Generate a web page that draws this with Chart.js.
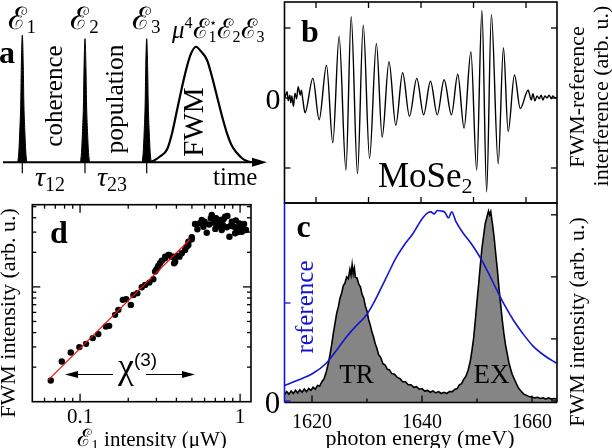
<!DOCTYPE html>
<html>
<head>
<meta charset="utf-8">
<script src="https://cdn.jsdelivr.net/npm/chart.js@4.4.1/dist/chart.umd.min.js"></script>
<style>
  html, body { margin: 0; padding: 0; background: #fff; }
  #wrap { position: relative; width: 612px; height: 448px; overflow: hidden; }
  #wrap canvas { position: absolute; left: 0; top: 0; }
</style>
</head>
<body>
<div id="wrap">
  <canvas id="cA" width="612" height="448"></canvas>
  <canvas id="cB" width="612" height="448"></canvas>
  <canvas id="cC" width="612" height="448"></canvas>
  <canvas id="cD" width="612" height="448"></canvas>
</div>
<script>
// ---- panel a: pulse sequence sketch
const pulseTimes = [19.3, 82, 143.7];
const pulseHeights = [1.10, 1.07, 1.07];
const pulseDt = [-4.5, -3.5, -2.5, -1.5, -1, 0, 1, 1.5, 2.5, 3.5, 4.5];
const pulseAmp = [0, 0.08, 0.25, 0.49, 0.75, 1, 0.75, 0.49, 0.25, 0.08, 0];
const fwmT = [147, 152, 157, 164, 169, 174, 179, 184, 188, 193, 198, 204, 209, 214, 219, 224, 229, 234, 239, 244, 249];
const fwmA = [0, 0.02, 0.05, 0.11, 0.25, 0.45, 0.65, 0.83, 0.94, 1.0, 0.96, 0.885, 0.74, 0.57, 0.40, 0.25, 0.14, 0.08, 0.035, 0.01, 0];

// ---- panel b: FWM-reference interference vs delay
const bX = [-0.59, -0.55, -0.53, -0.50, -0.48, -0.46, -0.43, -0.40, -0.37, -0.34, -0.30, -0.28, -0.25, -0.21,
  -0.06, 0.06, 0.20, 0.32, 0.44, 0.57, 0.67, 0.79, 0.90, 1.02, 1.15, 1.26, 1.39, 1.52, 1.65, 1.78, 1.92, 2.05,
  2.18, 2.31, 2.44, 2.58, 2.70, 2.82, 2.95, 3.06, 3.16, 3.25, 3.34, 3.47, 3.57, 3.66, 3.78, 3.89, 4.04,
  4.10, 4.13, 4.17, 4.21, 4.25, 4.29, 4.32, 4.36, 4.40, 4.44, 4.48, 4.51, 4.55, 4.59];
const bY = [0.01, 0.09, -0.04, 0.04, -0.07, 0.03, -0.12, 0.07, -0.01, 0.16, 0.04, 0.11, -0.03, -0.21,
  0.28, -0.31, 0.47, -0.64, 0.88, -1.03, 1.16, -1.08, 1.04, -0.86, 0.78, -0.56, 0.52, -0.39, 0.36, -0.26, 0.28, -0.24,
  0.24, -0.24, 0.26, -0.24, 0.34, -0.43, 0.66, -1.03, 1.25, -1.34, 1.19, -0.94, 0.72, -0.48, 0.33, -0.15, 0.11,
  -0.03, 0.06, -0.04, 0.03, -0.01, 0.04, -0.03, 0.03, 0, 0.04, -0.01, 0.03, 0, 0.01];
const bXTicks = [0, 1, 2, 3, 4];
const bYTicks = [-1, 0, 1];

// ---- panel c: FWM spectrum and reference spectrum
const cE = [1615.0, 1615.4, 1615.8, 1616.2, 1616.6, 1617.0, 1617.4, 1617.8, 1618.2, 1618.6, 1619.0, 1619.4, 1619.8,
  1620.2, 1620.6, 1621.0, 1621.4, 1621.8, 1622.2, 1622.6, 1623.0, 1623.3, 1623.6, 1623.9, 1624.2, 1624.5, 1624.8,
  1625.1, 1625.4, 1625.7, 1626.0, 1626.3, 1626.6, 1626.9, 1627.1, 1627.3, 1627.5, 1627.7, 1627.9, 1628.2, 1628.5,
  1628.8, 1629.1, 1629.4, 1629.7, 1630.0, 1630.3, 1630.6, 1630.9, 1631.2, 1631.5, 1631.8, 1632.1, 1632.5, 1632.9,
  1633.3, 1633.7, 1634.1, 1634.5, 1635.0, 1635.5, 1636.0, 1636.5, 1637.0, 1637.5, 1638.0, 1638.5, 1639.0, 1639.5,
  1640.0, 1640.5, 1641.0, 1641.5, 1642.0, 1642.5, 1643.0, 1643.5, 1644.0, 1644.5, 1645.0, 1645.5, 1646.0, 1646.4,
  1646.8, 1647.2, 1647.6, 1648.0, 1648.4, 1648.8, 1649.1, 1649.4, 1649.7, 1650.0, 1650.3, 1650.6, 1650.9, 1651.2,
  1651.5, 1651.8, 1652.1, 1652.3, 1652.5, 1652.8, 1653.1, 1653.4, 1653.7, 1654.0, 1654.3, 1654.6, 1654.9, 1655.2,
  1655.5, 1655.8, 1656.1, 1656.4, 1656.8, 1657.2, 1657.6, 1658.0, 1658.5, 1659.0, 1659.5, 1660.0, 1660.5, 1661.0,
  1661.5, 1662.0, 1662.5, 1663.0, 1663.5, 1664.0, 1664.5];
const cFWM = [0.10, 0.15, 0.11, 0.16, 0.12, 0.17, 0.13, 0.18, 0.14, 0.19, 0.15, 0.20, 0.17,
  0.22, 0.19, 0.25, 0.24, 0.31, 0.36, 0.47, 0.62, 0.76, 0.92, 1.10, 1.26, 1.42, 1.52,
  1.66, 1.74, 1.86, 1.90, 2.00, 1.97, 2.12, 2.03, 2.20, 2.05, 2.14, 1.99, 1.98, 1.88,
  1.84, 1.72, 1.66, 1.53, 1.45, 1.31, 1.22, 1.11, 1.03, 0.92, 0.85, 0.75, 0.70, 0.60,
  0.58, 0.51, 0.50, 0.44, 0.43, 0.38, 0.36, 0.31, 0.31, 0.26, 0.26, 0.22, 0.23, 0.19,
  0.20, 0.16, 0.17, 0.14, 0.16, 0.13, 0.15, 0.12, 0.14, 0.12, 0.15, 0.15, 0.19, 0.20,
  0.26, 0.28, 0.35, 0.40, 0.50, 0.65, 0.82, 1.02, 1.30, 1.60, 1.88, 2.18, 2.46, 2.66,
  2.86, 2.96, 3.06, 3.00, 3.05, 2.86, 2.65, 2.38, 2.12, 1.82, 1.56, 1.30, 1.08, 0.90,
  0.76, 0.62, 0.52, 0.43, 0.35, 0.27, 0.20, 0.16, 0.11, 0.09, 0.07, 0.06, 0.05, 0.06,
  0.04, 0.05, 0.03, 0.05, 0.03, 0.04, 0.03];
const refE = [1615.0, 1617.5, 1620.2, 1622.6, 1624.5, 1626.3, 1628.0, 1629.9, 1631.2, 1632.4, 1633.9, 1635.4,
  1636.9, 1638.4, 1639.2, 1640.0, 1640.9, 1641.6, 1642.2, 1642.8, 1643.5, 1644.2, 1644.8, 1645.4, 1646.2,
  1647.5, 1649.0, 1650.5, 1652.0, 1653.6, 1655.0, 1656.6, 1658.4, 1660.2, 1662.3, 1664.5];
const refVal = [0.158, 0.214, 0.283, 0.385, 0.52, 0.656, 0.765, 0.878, 1.0, 1.133, 1.306, 1.472,
  1.602, 1.711, 1.786, 1.857, 1.915, 1.929, 1.908, 1.944, 1.939, 1.923, 1.867, 1.929, 1.827,
  1.711, 1.602, 1.472, 1.316, 1.133, 0.98, 0.827, 0.684, 0.560, 0.462, 0.385];
const cXMajor = [1620, 1640, 1660];
const cXMinor = [1630, 1650];
const cYTicks = [0, 1, 2, 3];
const cRefTicks = [0, 1];

// ---- panel d: FWM intensity vs E1 intensity (log-log)
const dX = [0.0656, 0.0769, 0.0875, 0.099, 0.109, 0.120, 0.130, 0.145, 0.152, 0.1655, 0.1735, 0.185, 0.194,
  0.2075, 0.2155, 0.228, 0.243, 0.255, 0.271, 0.287, 0.294, 0.2985, 0.304, 0.308, 0.316, 0.324, 0.340, 0.340,
  0.356, 0.361, 0.374, 0.383, 0.387, 0.393, 0.406, 0.418, 0.432, 0.453, 0.464, 0.475, 0.475, 0.499, 0.499,
  0.523, 0.541, 0.557, 0.576, 0.590, 0.600, 0.619, 0.640, 0.656, 0.665, 0.688, 0.700, 0.708, 0.721, 0.740,
  0.750, 0.768, 0.780, 0.790, 0.806, 0.826, 0.833, 0.858, 0.870, 0.888, 0.917, 0.931, 0.940, 0.954, 0.970,
  0.990, 1.0, 1.025, 1.040, 1.059, 1.090];
const dY = [0.153, 0.224, 0.268, 0.299, 0.319, 0.358, 0.388, 0.452, 0.458, 0.571, 0.631, 0.771, 0.782,
  0.697, 0.852, 0.882, 0.994, 1.041, 1.090, 1.167, 1.359, 1.405, 1.454, 1.522, 1.607, 1.693, 1.777, 1.834,
  1.897, 1.897, 1.834, 1.834, 1.607, 1.660, 1.860, 1.834, 1.963, 2.098, 2.241, 2.318, 2.477, 2.600, 2.706,
  3.529, 3.175, 3.579, 3.826, 3.345, 3.70, 2.966, 3.50, 3.958, 4.227, 3.623, 3.20, 3.958, 3.391, 3.60,
  3.826, 3.131, 3.460, 3.90, 4.085, 3.305, 4.142, 2.737, 3.40, 3.698, 3.345, 2.930, 3.80, 3.175, 3.00,
  3.579, 3.238, 3.026, 3.30, 3.529, 3.131];
const fitX = [0.0634, 0.487];
const fitY = [0.155, 2.60];
const dXMajor = [0.1, 1];
const dXMinor = [0.06, 0.07, 0.08, 0.09, 0.2, 0.3, 0.4, 0.5, 0.6, 0.7, 0.8, 0.9];
const dYMajor = [1];
const dYMinor = [0.2, 0.3, 0.4, 0.5, 0.6, 0.7, 0.8, 0.9, 2, 3, 4, 5];

// ---- helpers
const SERIF = '"Liberation Serif", "Times New Roman", "DejaVu Serif", serif';
const SANS = '"Liberation Sans", Arial, "DejaVu Sans", sans-serif';
const BLUE = '#1414d4';

function fnt(sz, st, fam) { return (st ? st + ' ' : '') + sz + 'px ' + (fam || SERIF); }

function text(ctx, s, x, y, f, opt) {
  opt = opt || {};
  ctx.save();
  ctx.font = f;
  ctx.fillStyle = opt.color || '#000';
  ctx.textAlign = opt.align || 'center';
  ctx.textBaseline = opt.baseline || 'alphabetic';
  ctx.translate(x, y);
  if (opt.rot) ctx.rotate(opt.rot);
  ctx.fillText(s, 0, 0);
  ctx.restore();
}

// pieces of text with sub/superscripts drawn one after another
function rich(ctx, pieces, x, y, align) {
  ctx.save();
  ctx.textAlign = 'left';
  ctx.textBaseline = 'alphabetic';
  ctx.fillStyle = '#000';
  let w = 0;
  pieces.forEach(p => { ctx.font = fnt(p.s, p.st, p.fam); w += ctx.measureText(p.t).width + (p.dx || 0); });
  let cx = align === 'left' ? x : x - w / 2;
  pieces.forEach(p => {
    ctx.font = fnt(p.s, p.st, p.fam);
    cx += p.dx || 0;
    ctx.fillText(p.t, cx, y + (p.dy || 0));
    cx += ctx.measureText(p.t).width;
  });
  ctx.restore();
}

function line(ctx, x1, y1, x2, y2) {
  ctx.beginPath(); ctx.moveTo(x1, y1); ctx.lineTo(x2, y2); ctx.stroke();
}

// inward ticks on a horizontal edge (dir -1 up, +1 down)
function ticksX(ctx, scale, vals, y, len, dir) {
  vals.forEach(v => { const p = scale.getPixelForValue(v); line(ctx, p, y, p, y + dir * len); });
}
function ticksY(ctx, scale, vals, x, len, dir) {
  vals.forEach(v => { const p = scale.getPixelForValue(v); line(ctx, x, p, x + dir * len, p); });
}

function arrow(ctx, x1, y, x2) {
  const d = x2 > x1 ? 1 : -1;
  ctx.lineWidth = 1.2;
  line(ctx, x1, y, x2 - d * 8, y);
  ctx.beginPath();
  ctx.moveTo(x2, y); ctx.lineTo(x2 - d * 13, y - 3.5); ctx.lineTo(x2 - d * 13, y + 3.5);
  ctx.closePath(); ctx.fill();
}

const base = {
  responsive: false,
  animation: false,
  devicePixelRatio: 1,
  events: [],
  plugins: { legend: { display: false }, tooltip: { enabled: false } }
};

// ---- panel a
new Chart(document.getElementById('cA'), {
  type: 'line',
  data: {
    datasets: [
      ...pulseTimes.map((t, i) => ({
        data: pulseDt.map((d, j) => ({ x: t + d, y: pulseHeights[i] * pulseAmp[j] })),
        borderColor: '#000', backgroundColor: '#000', borderWidth: 1,
        fill: 'origin', pointRadius: 0, cubicInterpolationMode: 'monotone'
      })),
      {
        data: fwmT.map((t, i) => ({ x: t, y: fwmA[i] })),
        borderColor: '#000', borderWidth: 2.2, pointRadius: 0, fill: false,
        cubicInterpolationMode: 'monotone'
      }
    ]
  },
  options: {
    ...base,
    layout: { padding: { left: 3, right: 345, top: 0.5, bottom: 285.7 } },
    scales: {
      x: { type: 'linear', display: false, min: 0, max: 264, bounds: 'data' },
      y: { type: 'linear', display: false, min: 0, max: 1.4, bounds: 'data' }
    }
  },
  plugins: [{
    id: 'decoA',
    afterDraw(chart) {
      const ctx = chart.ctx, sx = chart.scales.x, sy = chart.scales.y;
      const y0 = sy.getPixelForValue(0);
      const xL = sx.getPixelForValue(sx.min), xR = sx.getPixelForValue(sx.max);
      ctx.save();
      ctx.strokeStyle = '#000'; ctx.fillStyle = '#000';
      ctx.lineWidth = 2;
      line(ctx, xL, y0, xR - 10, y0);
      ctx.beginPath();
      ctx.moveTo(xR, y0); ctx.lineTo(xR - 15, y0 - 4.5); ctx.lineTo(xR - 15, y0 + 4.5);
      ctx.closePath(); ctx.fill();
      ctx.lineWidth = 1.2;
      pulseTimes.forEach(t => { const p = sx.getPixelForValue(t); line(ctx, p, y0, p, y0 + 11); });

      text(ctx, 'a', -1, 63, fnt(32, 'bold'), { align: 'left' });
      ['1', '2', '3'].forEach((n, i) => {
        rich(ctx, [{ t: 'ℰ', s: 31 }, { t: n, s: 19, dy: 4 }], sx.getPixelForValue(pulseTimes[i]) - 0.5, 29);
      });
      rich(ctx, [
        { t: 'μ', s: 25, st: 'italic' }, { t: '4', s: 16, dy: -10 },
        { t: 'ℰ', s: 27 }, { t: '1', s: 16, dy: 4 }, { t: '⋆', s: 13, dy: -11, dx: -8 },
        { t: 'ℰ', s: 27 }, { t: '2', s: 16, dy: 4 },
        { t: 'ℰ', s: 27 }, { t: '3', s: 16, dy: 4 }
      ], 172, 38, 'left');
      text(ctx, 'coherence', 55.5, 96, fnt(25), { rot: -Math.PI / 2, baseline: 'middle' });
      text(ctx, 'population', 116, 99, fnt(25.5), { rot: -Math.PI / 2, baseline: 'middle' });
      text(ctx, 'FWM', 195.5, 122, fnt(29), { rot: -Math.PI / 2, baseline: 'middle' });
      rich(ctx, [{ t: 'τ', s: 28, st: 'italic' }, { t: '12', s: 20, dy: 5 }], 35, 186, 'left');
      rich(ctx, [{ t: 'τ', s: 28, st: 'italic' }, { t: '23', s: 20, dy: 5 }], 97, 186, 'left');
      text(ctx, 'time', 213, 185, fnt(25), { align: 'left' });
      ctx.restore();
    }
  }]
});

// ---- panel b
new Chart(document.getElementById('cB'), {
  type: 'line',
  data: {
    datasets: [{
      data: bX.map((x, i) => ({ x: x, y: bY[i] })),
      borderColor: '#000', borderWidth: 1.4, pointRadius: 0, fill: false,
      cubicInterpolationMode: 'monotone'
    }]
  },
  options: {
    ...base,
    layout: { padding: { left: 284.5, right: 55, top: 2, bottom: 245 } },
    scales: {
      x: { type: 'linear', display: false, min: -0.6, max: 4.59, bounds: 'data' },
      y: { type: 'linear', display: false, min: -1.5, max: 1.371, bounds: 'data' }
    }
  },
  plugins: [{
    id: 'decoB',
    afterDraw(chart) {
      const ctx = chart.ctx, a = chart.chartArea, sx = chart.scales.x, sy = chart.scales.y;
      ctx.save();
      ctx.strokeStyle = '#000'; ctx.lineWidth = 1.3;
      ticksX(ctx, sx, bXTicks, a.bottom, 6, -1);
      ticksX(ctx, sx, bXTicks, a.top, 6, 1);
      ticksY(ctx, sy, bYTicks, a.left, 6, 1);
      ticksY(ctx, sy, bYTicks, a.right, 6, -1);
      ctx.lineWidth = 1.6;
      ctx.strokeRect(a.left, a.top, a.right - a.left, a.bottom - a.top);
      text(ctx, 'b', 310, 42, fnt(32, 'bold'));
      text(ctx, '0', 273, sy.getPixelForValue(0) + 11, fnt(30));
      rich(ctx, [{ t: 'MoSe', s: 35 }, { t: '2', s: 22, dy: 6 }], 378, 187, 'left');
      text(ctx, 'FWM-reference', 578, 97, fnt(22), { rot: -Math.PI / 2, baseline: 'middle' });
      text(ctx, 'interference (arb. u.)', 602, 96, fnt(22), { rot: -Math.PI / 2, baseline: 'middle' });
      ctx.restore();
    }
  }]
});

// ---- panel c
new Chart(document.getElementById('cC'), {
  type: 'line',
  data: {
    datasets: [
      {
        data: refE.map((e, i) => ({ x: e, y: refVal[i] })),
        yAxisID: 'yr', borderColor: BLUE, borderWidth: 1.6, pointRadius: 0, fill: false,
        cubicInterpolationMode: 'monotone', order: 0
      },
      {
        data: cE.map((e, i) => ({ x: e, y: cFWM[i] })),
        yAxisID: 'y', borderColor: '#000', backgroundColor: '#858585', borderWidth: 1.6,
        pointRadius: 0, fill: 'start', tension: 0, order: 1
      }
    ]
  },
  options: {
    ...base,
    layout: { padding: { left: 284.5, right: 55, top: 203, bottom: 45.5 } },
    scales: {
      x: { type: 'linear', display: false, min: 1615, max: 1664.55, bounds: 'data' },
      y: { type: 'linear', display: false, min: -0.025, max: 3.19, bounds: 'data' },
      yr: { type: 'linear', display: false, min: -0.015, max: 2.02, bounds: 'data' }
    }
  },
  plugins: [{
    id: 'decoC',
    afterDraw(chart) {
      const ctx = chart.ctx, a = chart.chartArea, sx = chart.scales.x, sy = chart.scales.y, sr = chart.scales.yr;
      ctx.save();
      ctx.strokeStyle = '#000'; ctx.lineWidth = 1.3;
      ticksX(ctx, sx, cXMajor, a.bottom, 7, -1);
      ticksX(ctx, sx, cXMinor, a.bottom, 4, -1);
      ticksY(ctx, sy, cYTicks, a.right, 6, -1);
      ctx.lineWidth = 1.6;
      line(ctx, a.left, a.top, a.right, a.top);
      line(ctx, a.right, a.top, a.right, a.bottom);
      line(ctx, a.left, a.bottom, a.right, a.bottom);
      ctx.strokeStyle = BLUE;
      line(ctx, a.left, a.top, a.left, a.bottom);
      ctx.lineWidth = 1.3;
      ticksY(ctx, sr, cRefTicks, a.left, 6, 1);

      text(ctx, 'c', 303.5, 237, fnt(32, 'bold'));
      text(ctx, 'reference', 306, 307, fnt(25), { rot: -Math.PI / 2, baseline: 'middle', color: BLUE });
      text(ctx, 'TR', 356.5, 383, fnt(27));
      text(ctx, 'EX', 491.5, 383, fnt(27));
      text(ctx, '0', 272.5, 413, fnt(31));
      cXMajor.forEach(v => text(ctx, String(v), sx.getPixelForValue(v), 428, fnt(20)));
      text(ctx, 'photon energy (meV)', 420, 445, fnt(22));
      text(ctx, 'FWM intensity (arb. u.)', 578, 322, fnt(22), { rot: -Math.PI / 2, baseline: 'middle' });
      ctx.restore();
    }
  }]
});

// ---- panel d
new Chart(document.getElementById('cD'), {
  type: 'scatter',
  data: {
    datasets: [
      {
        data: fitX.map((x, i) => ({ x: x, y: fitY[i] })),
        showLine: true, borderColor: 'rgb(228,20,20)', borderWidth: 1.2, pointRadius: 0, order: 0
      },
      {
        data: dX.map((x, i) => ({ x: x, y: dY[i] })),
        pointRadius: 3.2, pointBackgroundColor: '#000', pointBorderWidth: 0, order: 1
      }
    ]
  },
  options: {
    ...base,
    layout: { padding: { left: 32.3, right: 361, top: 204.7, bottom: 46.3 } },
    scales: {
      x: { type: 'logarithmic', display: false, min: 0.0503, max: 1.17, bounds: 'data' },
      y: { type: 'logarithmic', display: false, min: 0.1, max: 5.2, bounds: 'data' }
    }
  },
  plugins: [{
    id: 'decoD',
    afterDraw(chart) {
      const ctx = chart.ctx, a = chart.chartArea, sx = chart.scales.x, sy = chart.scales.y;
      ctx.save();
      ctx.strokeStyle = '#000'; ctx.fillStyle = '#000'; ctx.lineWidth = 1.3;
      ticksX(ctx, sx, dXMajor, a.bottom, 8, -1);
      ticksX(ctx, sx, dXMinor, a.bottom, 4, -1);
      ticksX(ctx, sx, dXMajor, a.top, 8, 1);
      ticksX(ctx, sx, dXMinor, a.top, 4, 1);
      ticksY(ctx, sy, dYMajor, a.left, 8, 1);
      ticksY(ctx, sy, dYMinor, a.left, 4, 1);
      ticksY(ctx, sy, dYMajor, a.right, 8, -1);
      ticksY(ctx, sy, dYMinor, a.right, 4, -1);
      ctx.lineWidth = 1.6;
      ctx.strokeRect(a.left, a.top, a.right - a.left, a.bottom - a.top);

      text(ctx, 'd', 59, 243, fnt(32, 'bold'));
      rich(ctx, [{ t: 'χ', s: 36, fam: SERIF }, { t: '(3)', s: 19, dy: -12, fam: SANS }], 118, 378, 'left');
      arrow(ctx, 113, 374.5, 65);
      arrow(ctx, 146, 374.5, 195);
      text(ctx, '0.1', sx.getPixelForValue(0.1), 423, fnt(21));
      text(ctx, '1', sx.getPixelForValue(1), 423, fnt(21));
      rich(ctx, [{ t: 'ℰ', s: 24 }, { t: '1', s: 15, dy: 4 }, { t: ' intensity (μW)', s: 21 }], 152, 446);
      text(ctx, 'FWM intensity (arb. u.)', 9, 313, fnt(22), { rot: -Math.PI / 2, baseline: 'middle' });
      ctx.restore();
    }
  }]
});
</script>
</body>
</html>
